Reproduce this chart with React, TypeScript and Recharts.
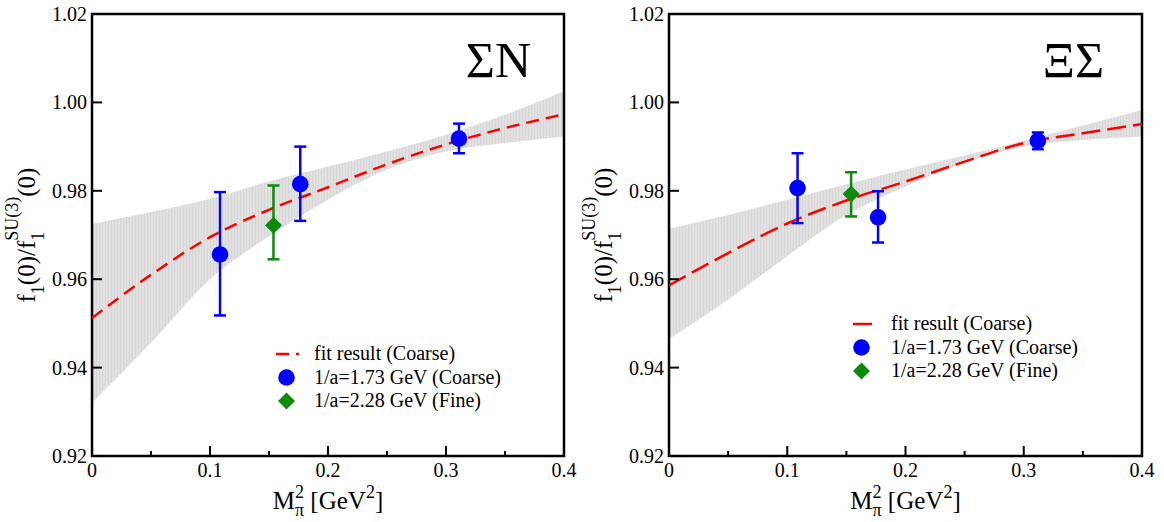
import React from 'react';
import { ComposedChart, XAxis, YAxis, Area, Line, Scatter, ErrorBar, ReferenceArea } from 'recharts';

// ---------- data ----------
const xGrid = [0, 0.05, 0.1, 0.15, 0.2, 0.25, 0.3, 0.35, 0.4];
const xTicks = [0, 0.05, 0.1, 0.15, 0.2, 0.25, 0.3, 0.35, 0.4];
const yTicks = [0.92, 0.94, 0.96, 0.98, 1.0, 1.02];

// Sigma N panel
const snFit = [0.9512, 0.961, 0.9695, 0.9757, 0.9808, 0.986, 0.9905, 0.9942, 0.9973];
const snBandLo = [0.932, 0.9456, 0.96, 0.9697, 0.978, 0.9848, 0.9889, 0.9908, 0.9923];
const snBandHi = [0.9725, 0.9752, 0.9782, 0.9821, 0.9855, 0.9889, 0.9927, 0.9972, 1.0025];
const snCoarseX = [0.1085, 0.1765, 0.311];
const snCoarseY = [0.9656, 0.9815, 0.9918];
const snCoarseLo = [0.9518, 0.9732, 0.9885];
const snCoarseHi = [0.9797, 0.99, 0.9952];
const snFineX = [0.1538];
const snFineY = [0.9722];
const snFineLo = [0.9645];
const snFineHi = [0.9812];

// Xi Sigma panel
const xsFit = [0.9586, 0.9659, 0.9726, 0.9778, 0.9821, 0.9866, 0.9908, 0.993, 0.9951];
const xsBandLo = [0.9464, 0.9554, 0.9652, 0.9745, 0.981, 0.9863, 0.99, 0.9915, 0.9923];
const xsBandHi = [0.9714, 0.9745, 0.978, 0.9815, 0.9848, 0.988, 0.9913, 0.9948, 0.9983];
const xsCoarseX = [0.1087, 0.1768, 0.3119];
const xsCoarseY = [0.9806, 0.974, 0.9913];
const xsCoarseLo = [0.9727, 0.9683, 0.9894];
const xsCoarseHi = [0.9885, 0.9799, 0.9932];
const xsFineX = [0.154];
const xsFineY = [0.9793];
const xsFineLo = [0.9742];
const xsFineHi = [0.9842];

const legendLabels = ['fit result (Coarse)', '1/a=1.73 GeV (Coarse)', '1/a=2.28 GeV (Fine)'];

// ---------- styling ----------
const FONT = "'Liberation Serif', Tinos, 'Times New Roman', Times, 'DejaVu Serif', serif";
const RED = '#ff0000';
const BLUE = '#0000ff';
const GREEN = '#0b8a0b';
const txt = { fontFamily: FONT };

const buildLine = (fit: number[], lo: number[], hi: number[]) =>
  xGrid.map((x, i) => ({ x, fit: fit[i], band: [lo[i], hi[i]] }));

const buildPoints = (xs: number[], ys: number[], lo: number[], hi: number[]) =>
  xs.map((x, i) => ({ x, y: ys[i], err: [ys[i] - lo[i], hi[i] - ys[i]] }));

const XTick = (props: any) => {
  const { x, y, payload } = props;
  const v = payload.value as number;
  const major = Math.abs(v * 10 - Math.round(v * 10)) < 1e-6;
  const label = v === 0 ? '0' : v.toFixed(1);
  return (
    <g>
      {v > 0.001 && v < 0.399 && (
        <line x1={x} x2={x} y1={y} y2={y - (major ? 10 : 5)} stroke="#000" strokeWidth={2} />
      )}
      {major && (
        <text x={x} y={y + 21} textAnchor="middle" style={txt} fontSize={20} fill="#000">
          {label}
        </text>
      )}
    </g>
  );
};

const YTick = (props: any) => {
  const { x, y, payload } = props;
  const v = payload.value as number;
  return (
    <g>
      {v > 0.921 && v < 1.019 && <line x1={x} x2={x + 10} y1={y} y2={y} stroke="#000" strokeWidth={2} />}
      <text x={x - 5} y={y + 7} textAnchor="end" style={txt} fontSize={20} fill="#000">
        {v.toFixed(2)}
      </text>
    </g>
  );
};

const circleShape = (props: any) => <circle cx={props.cx} cy={props.cy} r={8.3} fill={BLUE} />;
const diamondShape = (props: any) => {
  const { cx, cy } = props;
  const s = 8.5;
  return <polygon points={`${cx},${cy - s} ${cx + s},${cy} ${cx},${cy + s} ${cx - s},${cy}`} fill={GREEN} />;
};

type PanelProps = {
  id: string;
  left: number;
  width: number;
  margin: { top: number; right: number; bottom: number; left: number };
  lineData: any[];
  coarse: any[];
  fine: any[];
  dash: string;
  title: string;
  titleRight: number;
  legendX: number;
  legendY: number;
  legendLen: number;
};

const Panel = (p: PanelProps) => {
  const plotLeft = p.margin.left + 60;
  const plotRight = p.width - p.margin.right;
  const cx = (plotLeft + plotRight) / 2;
  const ylX = plotLeft - 57;
  const rowH = 23.5;
  const lx = p.legendX;
  const ly = p.legendY;
  const mid = lx + p.legendLen / 2 - 1;
  const textX = lx + 38;
  return (
    <div style={{ position: 'absolute', left: p.left, top: 0, width: p.width, height: 522 }}>
      <ComposedChart width={p.width} height={522} margin={p.margin}>
        <defs>
          <pattern id={`hatch-${p.id}`} width="3" height="8" patternUnits="userSpaceOnUse">
            <rect x="0" y="0" width="3" height="8" fill="#e1e1e1" />
            <rect x="0" y="0" width="1" height="8" fill="#d6d6d6" />
          </pattern>
        </defs>
        <XAxis
          dataKey="x"
          type="number"
          domain={[0, 0.4]}
          ticks={xTicks}
          interval={0}
          height={40}
          axisLine={false}
          tickLine={false}
          tickSize={0}
          tickMargin={0}
          tick={<XTick />}
          allowDataOverflow
        />
        <YAxis
          dataKey="y"
          type="number"
          domain={[0.92, 1.02]}
          ticks={yTicks}
          interval={0}
          width={60}
          axisLine={false}
          tickLine={false}
          tickSize={0}
          tickMargin={0}
          tick={<YTick />}
          allowDataOverflow
        />
        <Area
          data={p.lineData}
          dataKey="band"
          type="monotone"
          stroke="none"
          fill={`url(#hatch-${p.id})`}
          fillOpacity={1}
          isAnimationActive={false}
        />
        <Line
          data={p.lineData}
          dataKey="fit"
          type="monotone"
          stroke={RED}
          strokeWidth={2.5}
          strokeDasharray={p.dash}
          dot={false}
          isAnimationActive={false}
        />
        <Scatter data={p.fine} dataKey="y" shape={diamondShape} isAnimationActive={false}>
          <ErrorBar dataKey="err" direction="y" width={6} stroke={GREEN} strokeWidth={2.5} />
        </Scatter>
        <Scatter data={p.coarse} dataKey="y" shape={circleShape} isAnimationActive={false}>
          <ErrorBar dataKey="err" direction="y" width={6} stroke={BLUE} strokeWidth={2.5} />
        </Scatter>
        <ReferenceArea x1={0} x2={0.4} y1={0.92} y2={1.02} stroke="#000" strokeWidth={2.5} fill="none" fillOpacity={0} ifOverflow="visible" />
      </ComposedChart>
      <svg
        width={p.width}
        height={522}
        style={{ position: 'absolute', left: 0, top: 0, pointerEvents: 'none', fontFamily: FONT }}
      >
        <text x={p.titleRight} y={77} textAnchor="end" fontSize={50} fill="#000" style={txt}>
          {p.title}
        </text>
        <text transform={`translate(${ylX},235) rotate(-90)`} textAnchor="middle" fontSize={25} fill="#000" style={txt}>
          f<tspan fontSize={18} dy={9}>1</tspan>
          <tspan dy={-9}>(0)/f</tspan>
          <tspan fontSize={18} dy={9}>1</tspan>
          <tspan fontSize={18} dx={-9} dy={-26}>SU(3)</tspan>
          <tspan dy={17}>(0)</tspan>
        </text>
        <text x={cx} y={509} textAnchor="middle" fontSize={25} fill="#000" style={txt}>
          M<tspan fontSize={18} dy={-11}>2</tspan>
          <tspan fontSize={18} dx={-9} dy={18}>π</tspan>
          <tspan dy={-7}>{' [GeV'}</tspan>
          <tspan fontSize={18} dy={-11}>2</tspan>
          <tspan dy={11}>]</tspan>
        </text>
        <line x1={lx} x2={lx + p.legendLen} y1={ly} y2={ly} stroke={RED} strokeWidth={2.5} strokeDasharray={p.dash} />
        <text x={textX} y={ly + 6} fontSize={20} fill="#000" style={txt}>{legendLabels[0]}</text>
        <circle cx={mid} cy={ly + rowH} r={8.3} fill={BLUE} />
        <text x={textX} y={ly + rowH + 6} fontSize={20} fill="#000" style={txt}>{legendLabels[1]}</text>
        <polygon
          points={`${mid},${ly + 2 * rowH - 8.5} ${mid + 8.5},${ly + 2 * rowH} ${mid},${ly + 2 * rowH + 8.5} ${mid - 8.5},${ly + 2 * rowH}`}
          fill={GREEN}
        />
        <text x={textX} y={ly + 2 * rowH + 6} fontSize={20} fill="#000" style={txt}>{legendLabels[2]}</text>
      </svg>
    </div>
  );
}

export default function App() {
  const snLine = buildLine(snFit, snBandLo, snBandHi);
  const xsLine = buildLine(xsFit, xsBandLo, xsBandHi);
  return (
    <div style={{ position: 'absolute', left: 0, top: 0, width: 1164, height: 522, background: '#fff', overflow: 'hidden' }}>
      <Panel
        id="sn"
        left={0}
        width={580}
        margin={{ top: 14, right: 16, bottom: 26, left: 32 }}
        lineData={snLine}
        coarse={buildPoints(snCoarseX, snCoarseY, snCoarseLo, snCoarseHi)}
        fine={buildPoints(snFineX, snFineY, snFineLo, snFineHi)}
        dash="13 7"
        title="ΣN"
        titleRight={531}
        legendX={276}
        legendY={354}
        legendLen={23}
      />
      <Panel
        id="xs"
        left={580}
        width={584}
        margin={{ top: 14, right: 22, bottom: 26, left: 29 }}
        lineData={xsLine}
        coarse={buildPoints(xsCoarseX, xsCoarseY, xsCoarseLo, xsCoarseHi)}
        fine={buildPoints(xsFineX, xsFineY, xsFineLo, xsFineHi)}
        dash="19 7"
        title="ΞΣ"
        titleRight={524}
        legendX={273}
        legendY={324}
        legendLen={19}
      />
    </div>
  );
}
